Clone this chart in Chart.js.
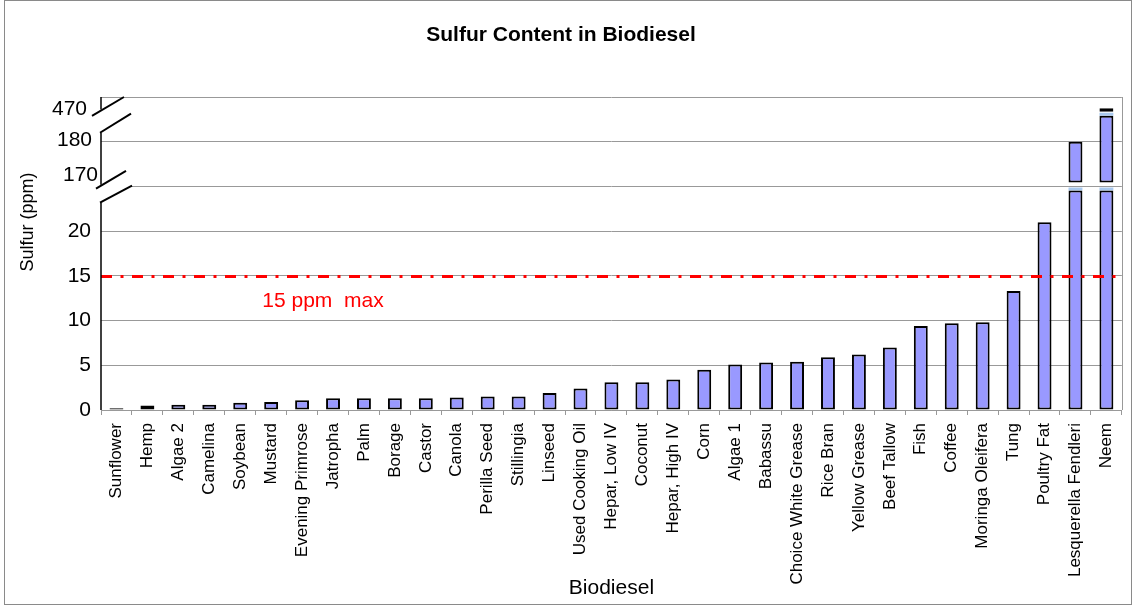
<!DOCTYPE html>
<html><head><meta charset="utf-8">
<script src="https://cdn.jsdelivr.net/npm/chart.js@4.4.1/dist/chart.umd.min.js"></script>
<style>html,body{margin:0;padding:0;background:#fff}#wrap{width:1135px;height:607px;position:relative}</style>
</head><body><div id="wrap"><canvas id="c"></canvas></div>
<script>
// ---- data ----
const categories = ['Sunflower','Hemp','Algae 2','Camelina','Soybean','Mustard','Evening Primrose','Jatropha','Palm','Borage','Castor','Canola','Perilla Seed','Stillingia','Linseed','Used Cooking Oil','Hepar, Low IV','Coconut','Hepar, High IV','Corn','Algae 1','Babassu','Choice White Grease','Rice Bran','Yellow Grease','Beef Tallow','Fish','Coffee','Moringa Oleifera','Tung','Poultry Fat','Lesquerella Fendleri','Neem'];
const sulfurPpm = [0.2,0.5,0.6,0.6,0.8,0.9,1.1,1.3,1.3,1.3,1.3,1.4,1.5,1.5,1.9,2.4,3.1,3.1,3.4,4.5,5.1,5.3,5.4,5.9,6.2,7.0,9.4,9.7,9.8,13.3,21,180,470];
const yTickValues = [0,5,10,15,20];
const breakTickLabels = ['170','180','470'];
const limitValue = 15;
const limitLabel = '15 ppm  max';
const chartTitle = 'Sulfur Content in Biodiesel';
const xTitle = 'Biodiesel';
const yTitle = 'Sulfur (ppm)';

// broken-axis mapping: real ppm ranges -> axis units
const axisSegments = [
  {realFrom:0,   realTo:24.55, axisFrom:0,     axisTo:24.55},
  {realFrom:170, realTo:186.4, axisFrom:25.45, axisTo:32.9},
  {realFrom:440, realTo:470,   axisFrom:33.35, axisTo:33.75}
];
const CAP = 0.33;

const FONT = "'Liberation Sans', Arial, sans-serif";

function pieceData(seg){
  const k = (seg.axisTo - seg.axisFrom) / (seg.realTo - seg.realFrom);
  return sulfurPpm.map(v => v > seg.realFrom ? [seg.axisFrom, seg.axisFrom + (Math.min(v, seg.realTo) - seg.realFrom) * k] : null);
}
function capData(seg, next){
  return sulfurPpm.map(v => (next && v > seg.realTo && v > next.realFrom) ? [seg.axisTo, seg.axisTo + CAP] : null);
}

const datasets = [];
axisSegments.forEach((seg, i) => {
  datasets.push({
    label: 'Sulfur', data: pieceData(seg), grouped: false,
    backgroundColor: '#9999FF', borderColor: '#000', borderWidth: 2, borderSkipped: false,
    barPercentage: 0.45, categoryPercentage: 1
  });
  const next = axisSegments[i+1];
  if (next) datasets.push({
    label: 'break', data: capData(seg, next), grouped: false,
    backgroundColor: '#A9C9EE', borderWidth: 0,
    barPercentage: 0.45, categoryPercentage: 1
  });
});

const decor = {
  id: 'decor',
  beforeDraw(chart){
    const c = chart.ctx;
    c.save();
    c.fillStyle = '#fff';
    c.fillRect(0, 0, chart.width, chart.height);
    c.strokeStyle = '#8a8a8a'; c.lineWidth = 1;
    c.strokeRect(4.5, 0.5, 1127, 604);
    c.restore();
  },
  afterDatasetsDraw(chart){
    const c = chart.ctx, y = chart.scales.y, a = chart.chartArea;
    const p = v => y.getPixelForValue(v);
    c.save();
    // limit line
    const ly = Math.round(p(limitValue)) + 0.5;
    c.strokeStyle = '#FF0000'; c.lineWidth = 3;
    c.setLineDash([11, 8.5, 3, 8.5]);
    c.beginPath(); c.moveTo(a.left, ly); c.lineTo(a.right, ly); c.stroke();
    c.setLineDash([]);
    c.fillStyle = '#FF0000';
    c.font = '21px ' + FONT; c.textAlign = 'center'; c.textBaseline = 'alphabetic';
    c.fillText(limitLabel, a.left + 222, ly + 30);
    // plot area right border
    c.strokeStyle = '#999'; c.lineWidth = 1;
    c.beginPath(); c.moveTo(Math.round(a.right) + 0.5, a.top); c.lineTo(Math.round(a.right) + 0.5, a.bottom); c.stroke();
    // break regions (white), y-axis line pieces, slashes
    const ax = a.left;
    c.fillStyle = '#fff';
    c.beginPath();
    c.moveTo(ax - 1, p(23.18)); c.lineTo(ax + 31, p(25.1)); c.lineTo(ax + 25, p(26.75)); c.lineTo(ax - 5, p(24.75));
    c.closePath(); c.fill();
    c.beginPath();
    c.moveTo(ax - 1, p(31.0)); c.lineTo(ax + 30, p(33.15)); c.lineTo(ax + 23, p(35)); c.lineTo(ax - 9, p(32.9));
    c.closePath(); c.fill();
    c.strokeStyle = '#000'; c.lineWidth = 1.5;
    const seg = (v1, v2) => { c.beginPath(); c.moveTo(ax, p(v1)); c.lineTo(ax, p(v2)); c.stroke(); };
    seg(0, 23.18); seg(25.2, 31.0); seg(33.6, 35);
    c.lineWidth = 2;
    const sl = (x1, v1, x2, v2) => { c.beginPath(); c.moveTo(ax + x1, p(v1)); c.lineTo(ax + x2, p(v2)); c.stroke(); };
    sl(-1, 23.18, 31, 25.1);
    sl(-5, 24.75, 25, 26.75);
    sl(-1, 31.0, 30, 33.15);
    sl(-9, 32.9, 23, 35);
    // break tick labels
    c.fillStyle = '#000'; c.font = '21px ' + FONT; c.textAlign = 'right'; c.textBaseline = 'middle';
    const pos = [[-3, 26.3], [-9, 30.2], [-14, 33.6]];
    breakTickLabels.forEach((t, i) => c.fillText(t, ax + pos[i][0], p(pos[i][1])));
    // y title
    c.save();
    c.translate(28, 222); c.rotate(-Math.PI / 2);
    c.font = '18px ' + FONT; c.textAlign = 'center'; c.textBaseline = 'middle';
    c.fillText(yTitle, 0, 0);
    c.restore();
    c.restore();
  }
};

new Chart(document.getElementById('c'), {
  type: 'bar',
  data: { labels: categories, datasets },
  options: {
    responsive: true, maintainAspectRatio: false, animation: false,
    layout: { padding: { left: 0, right: 13, top: 0, bottom: 0 } },
    plugins: {
      legend: { display: false },
      tooltip: { enabled: false },
      title: { display: true, text: chartTitle, color: '#000',
        font: { family: FONT, size: 21, weight: 'bold' }, padding: { top: 23, bottom: 48.8 } }
    },
    scales: {
      x: {
        grid: { display: true, drawOnChartArea: false, drawTicks: true, tickLength: 5, color: '#999', offset: true },
        border: { display: true, color: '#999', width: 1 },
        ticks: { autoSkip: false, minRotation: 90, maxRotation: 90, padding: 8, color: '#000', font: { family: FONT, size: 17 } },
        title: { display: true, text: xTitle, color: '#000', font: { family: FONT, size: 21 }, padding: { top: 0, bottom: 6 } },
        afterFit(s){ s.height = 197; }
      },
      y: {
        min: 0, max: 35,
        afterBuildTicks(s){ s.ticks = [0,5,10,15,20,25,30,35].map(v => ({ value: v })); },
        grid: { color: '#999', drawTicks: false, lineWidth: 1 },
        border: { display: false },
        ticks: { padding: 10, color: '#000', font: { family: FONT, size: 21 },
          callback: v => yTickValues.includes(v) ? String(v) : '' },
        afterFit(s){ s.width = 101; }
      }
    }
  },
  plugins: [decor]
});
</script></body></html>
